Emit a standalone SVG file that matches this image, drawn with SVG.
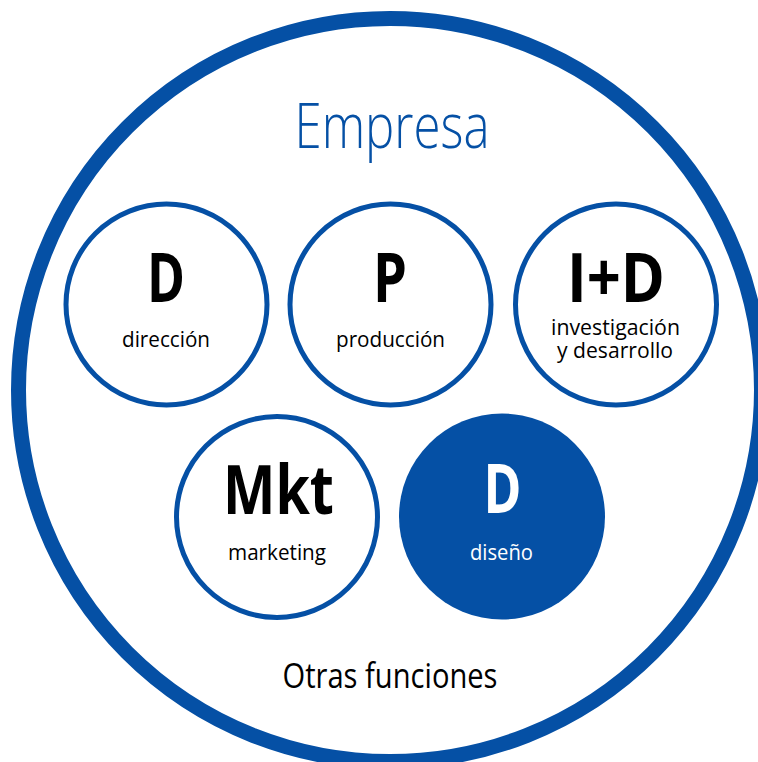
<svg xmlns="http://www.w3.org/2000/svg" width="758" height="762" viewBox="0 0 758 762">
<style>
.ring{fill:#fff;stroke:#0550a5;stroke-width:5}
.big{font-family:"Open Sans","Noto Sans","Liberation Sans",sans-serif;font-weight:700;font-size:68px;fill:#000;text-anchor:middle}
.lbl{font-family:"Open Sans","Noto Sans","Liberation Sans",sans-serif;font-size:21px;fill:#000;text-anchor:middle}
.w{fill:#fff}
</style>
<rect width="758" height="762" fill="#fff"/>
<g id="empresa">
<circle cx="390" cy="390" r="371.5" fill="#fff" stroke="#0550a5" stroke-width="15"/>
<text x="392" y="148" font-family="'Open Sans','Noto Sans','Liberation Sans',sans-serif" font-weight="300" font-size="62" fill="#0550a5" text-anchor="middle" textLength="195" lengthAdjust="spacingAndGlyphs">Empresa</text>
<text x="390" y="688" font-family="'Open Sans','Noto Sans','Liberation Sans',sans-serif" font-size="35" fill="#000" text-anchor="middle" textLength="215" lengthAdjust="spacingAndGlyphs">Otras funciones</text>
</g>
<g id="direccion">
<circle class="ring" cx="166.5" cy="304.5" r="100.5"/>
<text class="big" x="166" y="302" textLength="38" lengthAdjust="spacingAndGlyphs">D</text>
<text class="lbl" x="166" y="347" textLength="88" lengthAdjust="spacingAndGlyphs">dirección</text>
</g>
<g id="produccion">
<circle class="ring" cx="390.5" cy="304.5" r="100.5"/>
<text class="big" x="390" y="302" textLength="34" lengthAdjust="spacingAndGlyphs">P</text>
<text class="lbl" x="390.5" y="347" textLength="109" lengthAdjust="spacingAndGlyphs">producción</text>
</g>
<g id="id">
<circle class="ring" cx="616" cy="304.5" r="100.5"/>
<text class="big" x="616" y="302" textLength="98" lengthAdjust="spacingAndGlyphs">I+D</text>
<text class="lbl" x="615.5" y="335" textLength="129" lengthAdjust="spacingAndGlyphs">investigación</text>
<text class="lbl" x="615" y="358" textLength="116" lengthAdjust="spacingAndGlyphs">y desarrollo</text>
</g>
<g id="marketing">
<circle class="ring" cx="277" cy="517" r="100.5"/>
<text class="big" x="278.5" y="514" textLength="111" lengthAdjust="spacingAndGlyphs">Mkt</text>
<text class="lbl" x="277" y="560" textLength="98" lengthAdjust="spacingAndGlyphs">marketing</text>
</g>
<g id="diseno">
<circle cx="502" cy="516.5" r="103" fill="#0550a5"/>
<text class="big w" x="502.5" y="513" textLength="38" lengthAdjust="spacingAndGlyphs">D</text>
<text class="lbl w" x="501.5" y="560" textLength="63" lengthAdjust="spacingAndGlyphs">diseño</text>
</g>
<g id="connectors"/>
</svg>
